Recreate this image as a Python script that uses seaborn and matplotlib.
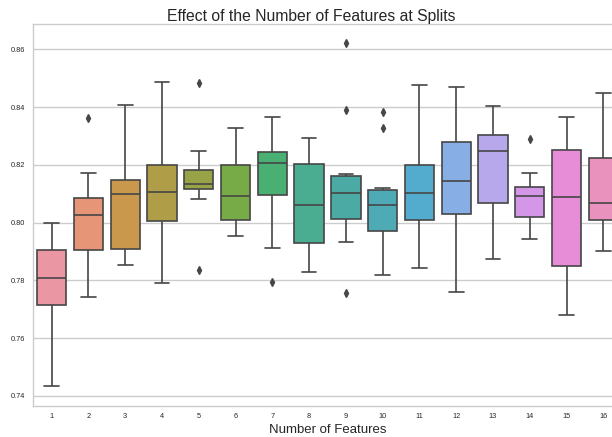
import colorsys

import matplotlib
matplotlib.use("Agg")
import matplotlib.pyplot as plt
import pandas as pd
import seaborn as sns

# Cross-validated accuracy summary for each max_features setting
features = [str(i) for i in range(1, 17)]
whisker_low = [0.7433, 0.7743, 0.7855, 0.7791, 0.8082, 0.7955, 0.7912, 0.7830,
               0.7932, 0.7819, 0.7843, 0.7760, 0.7873, 0.7942, 0.7679, 0.7903]
q1 = [0.7716, 0.7905, 0.7909, 0.8006, 0.8118, 0.8009, 0.8096, 0.7931,
      0.8013, 0.7972, 0.8009, 0.8029, 0.8067, 0.8020, 0.7851, 0.8009]
median = [0.7810, 0.8025, 0.8098, 0.8107, 0.8135, 0.8093, 0.8208, 0.8062,
          0.8104, 0.8062, 0.8102, 0.8144, 0.8247, 0.8093, 0.8090, 0.8068]
q3 = [0.7905, 0.8085, 0.8149, 0.8201, 0.8182, 0.8201, 0.8246, 0.8204,
      0.8162, 0.8112, 0.8201, 0.8279, 0.8303, 0.8125, 0.8253, 0.8225]
whisker_high = [0.7999, 0.8171, 0.8407, 0.8486, 0.8247, 0.8329, 0.8365, 0.8294,
                0.8167, 0.8119, 0.8478, 0.8471, 0.8404, 0.8171, 0.8365, 0.8448]
outlier_feature = ["2", "5", "5", "7", "9", "9", "9", "10", "10", "14"]
outlier_value = [0.8362, 0.8482, 0.7835, 0.7793, 0.8623, 0.8390, 0.7755,
                 0.8383, 0.8327, 0.8288]

# Expand each summary into 13 ordered scores whose quartiles and whisker
# ends equal the summary values (quartiles fall on sorted positions 3, 6, 9).
rows = []
for i, feat in enumerate(features):
    extra = [v for f, v in zip(outlier_feature, outlier_value) if f == feat]
    low_out = sorted(v for v in extra if v < q1[i])
    high_out = sorted(v for v in extra if v > q3[i])
    scores = (low_out
              + [whisker_low[i]] * (3 - len(low_out))
              + [q1[i]]
              + [median[i]] * 3
              + [q3[i]] * 3
              + [whisker_high[i]] * (3 - len(high_out))
              + high_out)
    rows += [(feat, s) for s in scores]
df = pd.DataFrame(rows, columns=["Number of Features", "score"])

sns.set_theme(style="whitegrid")
plt.rcParams["font.family"] = ["Liberation Sans", "DejaVu Sans"]

palette = sns.husl_palette(len(features), l=.7)
desat = [sns.desaturate(c, .75) for c in palette]
lum = min(colorsys.rgb_to_hls(*c)[1] for c in desat) * .6
line_gray = (lum, lum, lum)

W, H = 612, 437
fig = plt.figure(figsize=(W / 100, H / 100), dpi=100)
left, right, top, bottom = 33.3, 621.7, 24.3, 405.7
ax = fig.add_axes([left / W, 1 - bottom / H, (right - left) / W, (bottom - top) / H])

sns.boxplot(
    data=df, x="Number of Features", y="score",
    hue="Number of Features", order=features, hue_order=features,
    palette=dict(zip(features, palette)), saturation=.75, legend=False,
    width=.8, linewidth=1.2, linecolor=line_gray,
    flierprops=dict(marker="d", markersize=3.6, markerfacecolor=line_gray,
                    markeredgecolor=line_gray),
    ax=ax,
)

ax.set_ylim(0.7366, 0.8687)
ax.set_yticks([0.74, 0.76, 0.78, 0.80, 0.82, 0.84, 0.86])
ax.set_ylabel("")
ax.tick_params(axis="x", length=0, labelsize=5.3, pad=5)
ax.tick_params(axis="y", length=0, labelsize=5.3, pad=6)
ax.set_xlabel("Number of Features", fontsize=9.5, labelpad=3)
ax.set_title("Effect of the Number of Features at Splits", fontsize=11.3,
             x=0.472, pad=2.6)
for sp in ax.spines.values():
    sp.set_linewidth(1.0)

fig.savefig("out.png", dpi=100)
